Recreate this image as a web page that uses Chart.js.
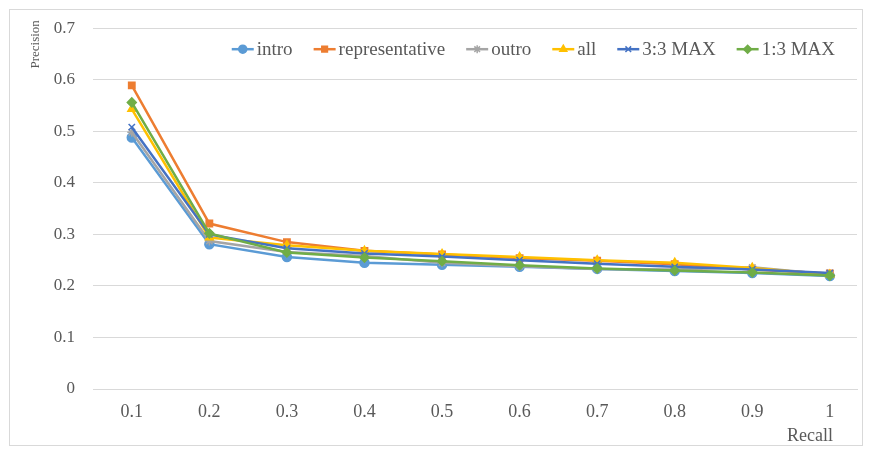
<!DOCTYPE html>
<html>
    <head>
        <meta charset="utf-8">
        <title>Precision - Recall</title>
        <script src="https://cdn.jsdelivr.net/npm/chart.js@4.4.0/dist/chart.umd.min.js"></script>
        <style>
            body { margin: 0; background: #ffffff; }
            #wrap { position: relative; width: 871px; height: 453px; }
            #frame { position: absolute; left: 9px; top: 9px; width: 852px; height: 435px; border: 1px solid #d9d9d9; }
            canvas { position: absolute; left: 0; top: 0; }
        </style>
    </head>
    <body>
        <div id="wrap">
            <div id="frame"></div>
            <canvas id="myChart" width="871" height="453"></canvas>
        </div>

        <script>
        // data
        const recall = ["0.1", "0.2", "0.3", "0.4", "0.5", "0.6", "0.7", "0.8", "0.9", "1"];
        const intro          = [0.488, 0.281, 0.256, 0.245, 0.241, 0.237, 0.233, 0.229, 0.225, 0.219];
        const representative = [0.589, 0.321, 0.285, 0.268, 0.261, 0.254, 0.249, 0.242, 0.232, 0.224];
        const outro          = [0.498, 0.287, 0.266, 0.258, 0.245, 0.238, 0.233, 0.232, 0.236, 0.222];
        const all            = [0.543, 0.294, 0.279, 0.268, 0.262, 0.256, 0.250, 0.245, 0.235, 0.222];
        const max33          = [0.508, 0.300, 0.273, 0.263, 0.257, 0.250, 0.243, 0.237, 0.232, 0.225];
        const max13          = [0.556, 0.302, 0.265, 0.255, 0.248, 0.240, 0.234, 0.230, 0.226, 0.220];
        const yTicks = [0, 0.1, 0.2, 0.3, 0.4, 0.5, 0.6, 0.7];

        const seriesNames  = ["intro", "representative", "outro", "all", "3:3 MAX", "1:3 MAX"];
        const seriesData   = [intro, representative, outro, all, max33, max13];
        const seriesColors = ["#5b9bd5", "#ed7d31", "#a5a5a5", "#ffc000", "#4472c4", "#70ad47"];
        const seriesPoints = ["circle", "rect", "star", "triangle", "crossRot", "rectRot"];

        const FONT = "'Liberation Serif', 'Times New Roman', serif";
        const recallNum = recall.map(Number);

        // legend inside the plot (line + marker) and the two axis titles
        const extras = {
            id: 'extras',
            afterDraw(chart) {
                const ctx = chart.ctx;
                const area = chart.chartArea;
                ctx.save();
                ctx.font = "19px " + FONT;
                ctx.textBaseline = "middle";
                let widths = seriesNames.map(n => 22 + 3 + ctx.measureText(n).width);
                let total = widths.reduce((a, b) => a + b, 0) + 21 * (seriesNames.length - 1);
                let x = area.right - 22 - total;
                let y = area.top + 21;
                for (let i = 0; i < seriesNames.length; i++) {
                    ctx.strokeStyle = seriesColors[i];
                    ctx.lineWidth = 2.5;
                    ctx.beginPath();
                    ctx.moveTo(x, y);
                    ctx.lineTo(x + 22, y);
                    ctx.stroke();
                    ctx.fillStyle = seriesColors[i];
                    ctx.lineWidth = 1.5;
                    Chart.helpers.drawPoint(ctx, { pointStyle: seriesPoints[i], radius: 4, rotation: 0, borderWidth: 1.5 }, x + 11, y);
                    ctx.fillStyle = "#595959";
                    ctx.fillText(seriesNames[i], x + 25, y + 1);
                    x += widths[i] + 21;
                }

                // axis titles
                ctx.fillStyle = "#595959";
                ctx.font = "18px " + FONT;
                ctx.textAlign = "right";
                ctx.fillText("Recall", area.right - 24, area.bottom + 47);
                ctx.font = "13px " + FONT;
                ctx.translate(36, area.top - 8);
                ctx.rotate(-Math.PI / 2);
                ctx.textAlign = "right";
                ctx.fillText("Precision", 0, 0);
                ctx.restore();
            }
        };

        let datasets = [];
        for (let i = 0; i < seriesNames.length; i++) {
            datasets.push({
                label: seriesNames[i],
                data: seriesData[i].map((v, j) => ({ x: recallNum[j], y: v })),
                borderColor: seriesColors[i],
                backgroundColor: seriesColors[i],
                borderWidth: 2.5,
                pointStyle: seriesPoints[i],
                pointRadius: 4.5,
                pointBorderWidth: 1.5,
                pointBorderColor: seriesColors[i],
                pointBackgroundColor: seriesColors[i],
                tension: 0,
                order: seriesNames.length - i
            });
        }

        myChart = new Chart(document.getElementById('myChart'), {
            type: 'line',
            data: { datasets: datasets },
            options: {
                responsive: false,
                animation: false,
                layout: { padding: { left: 10, right: 14, top: 26, bottom: 9 } },
                plugins: {
                    legend: { display: false },
                    tooltip: { enabled: false }
                },
                scales: {
                    x: {
                        type: 'linear',
                        min: 0.05,
                        max: 1.035,
                        afterBuildTicks(scale) { scale.ticks = recallNum.map(v => ({ value: v })); },
                        grid: { display: false, drawTicks: false },
                        border: { display: true, color: '#d9d9d9', width: 1 },
                        ticks: { color: '#595959', font: { family: FONT, size: 18 }, padding: 12,
                                 callback: (v, i) => recall[i] },
                        afterFit(scale) { scale.height = 55; }
                    },
                    y: {
                        min: 0,
                        max: 0.7,
                        afterBuildTicks(scale) { scale.ticks = yTicks.map(v => ({ value: v })); },
                        grid: { color: '#d9d9d9', drawTicks: false },
                        border: { display: false },
                        ticks: { color: '#595959', font: { family: FONT, size: 17 }, padding: 18,
                                 callback: v => String(v) },
                        afterFit(scale) { scale.width = 83; }
                    }
                }
            },
            plugins: [extras]
        });
        </script>
    </body>
</html>
